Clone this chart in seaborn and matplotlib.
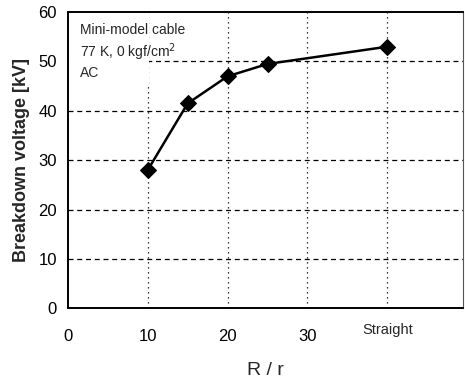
import matplotlib
matplotlib.use("Agg")
import matplotlib.pyplot as plt
from matplotlib.patches import Rectangle
import seaborn as sns
import pandas as pd

# data
ratio = [10, 15, 20, 25, 40]          # R / r, "Straight" placed at 40
voltage = [28.0, 41.5, 47.0, 49.5, 53.0]
xticks = [0, 10, 20, 30, 40]
xticklabels = ["0", "10", "20", "30", ""]
yticks = [0, 10, 20, 30, 40, 50, 60]

df = pd.DataFrame({"ratio": ratio, "voltage": voltage})

sns.set_theme(style="white")
plt.rcParams["font.family"] = ["Liberation Sans", "DejaVu Sans"]

fig = plt.figure(figsize=(4.65, 3.8), dpi=100)
ax = fig.add_axes([0.146, 0.189, 0.85, 0.779])

sns.lineplot(data=df, x="ratio", y="voltage", ax=ax, color="black",
             linewidth=1.8, marker="D", markersize=8, markeredgecolor="black",
             zorder=5)

ax.set_xlim(0, 49.5)
ax.set_ylim(0, 60)
ax.set_xticks(xticks)
ax.set_xticklabels(xticklabels)
ax.set_yticks(yticks)
ax.tick_params(axis="both", labelsize=12, length=0, colors="black")
ax.tick_params(axis="x", pad=15)
ax.tick_params(axis="y", pad=8)

# grid: dashed horizontals, dotted verticals
for yv in yticks[1:-1]:
    ax.axhline(yv, color="black", linestyle=(0, (4, 3)), linewidth=0.9, zorder=0)
for xv in xticks[1:]:
    ax.axvline(xv, color="black", linestyle=(0, (1, 3)), linewidth=0.9, zorder=0)

for s in ["left", "bottom", "top"]:
    ax.spines[s].set_color("black")
    ax.spines[s].set_linewidth(1.4)
ax.spines["right"].set_color("#555555")
ax.spines["right"].set_linewidth(0.8)

ax.text(40, -3.0, "Straight", ha="center", va="top", fontsize=10.5)

ax.set_ylabel("Breakdown voltage [kV]", fontsize=13, fontweight="bold", labelpad=6)
ax.set_xlabel("R / r", fontsize=14, labelpad=13)

# white box behind the condition text
ax.add_patch(Rectangle((0.2, 45.5), 9.9, 14.3, facecolor="white",
                       edgecolor="none", zorder=1))
ax.text(1.5, 56.3, "Mini-model cable", fontsize=10, va="center", zorder=2)
ax.text(1.5, 51.8, "77 K, 0 kgf/cm$^2$", fontsize=10, va="center", zorder=2)
ax.text(1.5, 47.6, "AC", fontsize=10, va="center", zorder=2)

fig.savefig("out.png", dpi=100)
